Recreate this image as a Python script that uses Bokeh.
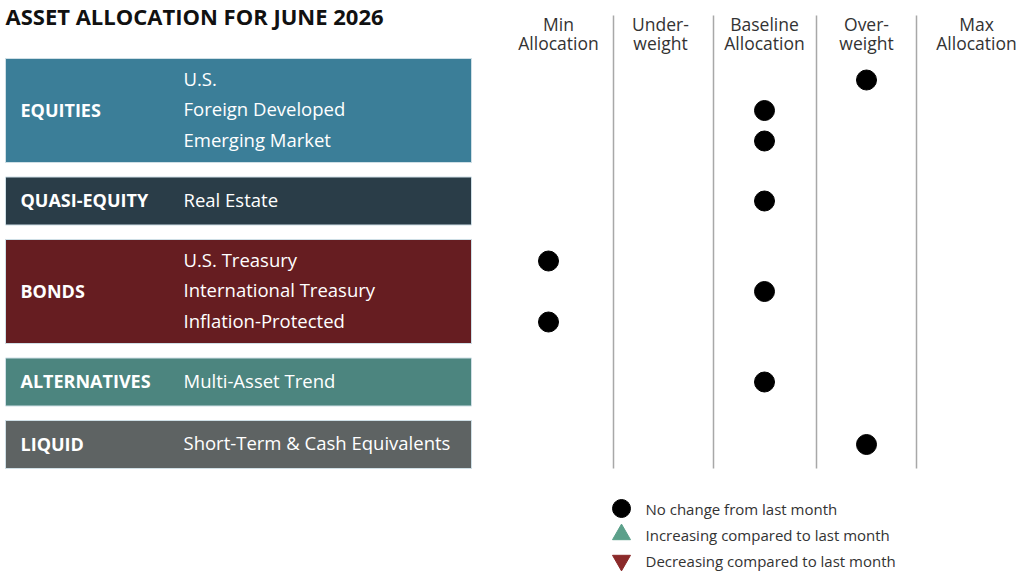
from bokeh.plotting import figure
from bokeh.models import Range1d, ColumnDataSource
from bokeh.core.properties import value
from bokeh.embed import file_html
from bokeh.resources import INLINE

# ---------------- data ----------------
title = "ASSET ALLOCATION FOR JUNE 2026"
levels = ["Min\nAllocation", "Under-\nweight", "Baseline\nAllocation", "Over-\nweight", "Max\nAllocation"]
groups = ["EQUITIES", "QUASI-EQUITY", "BONDS", "ALTERNATIVES", "LIQUID"]
group_colors = ["#3B7E98", "#2A3D48", "#661D21", "#4C857F", "#5E6363"]
group_assets = [
    ["U.S.", "Foreign Developed", "Emerging Market"],
    ["Real Estate"],
    ["U.S. Treasury", "International Treasury", "Inflation-Protected"],
    ["Multi-Asset Trend"],
    ["Short-Term & Cash Equivalents"],
]
# allocation level index per asset (0=Min ... 4=Max)
group_levels = [
    [3, 2, 2],
    [2],
    [0, 2, 0],
    [2],
    [3],
]
# change vs last month per asset
group_changes = [
    ["none", "none", "none"],
    ["none"],
    ["none", "none", "none"],
    ["none"],
    ["none"],
]
legend_labels = ["No change from last month", "Increasing compared to last month", "Decreasing compared to last month"]
legend_keys = ["none", "up", "down"]

# ---------------- style / layout ----------------
FONT = "Open Sans"
W, H = 1024, 575
change_marker = {"none": "circle", "up": "triangle", "down": "inverted_triangle"}
change_color = {"none": "#000000", "up": "#5BA08A", "down": "#8B2A2A"}
header_x = [558, 660, 764, 866, 976]
dot_x = [548, 663, 764, 866, 970]
divider_x = [613, 713, 816, 916]
box_left, box_right = 5, 471
row_pitch = 30.5

p = figure(width=W, height=H, x_range=Range1d(0, W), y_range=Range1d(H, 0),
           output_backend="svg", toolbar_location=None, min_border=0)
p.axis.visible = False
p.grid.visible = False
p.outline_line_color = None
p.background_fill_color = "white"

# title
p.text(x=[5], y=[15], text=[title], text_font=value(FONT), text_font_style="bold",
       text_font_size="22px", text_color="#111111", text_baseline="middle", text_align="left")

# headers
for hx, lab in zip(header_x, levels):
    l1, l2 = lab.split("\n")
    p.text(x=[hx, hx], y=[23, 42], text=[l1, l2], text_font=value(FONT), text_font_size="17.5px",
           text_color="#333333", text_baseline="middle", text_align="center")

# dividers
p.segment(x0=divider_x, y0=[15] * 4, x1=divider_x, y1=[468] * 4, line_color="#a8a8a8", line_width=1.5)

# boxes and rows
top = 58.0
bx, by, bw, bh, bc = [], [], [], [], []
gl_x, gl_y, gl_t = [], [], []
al_x, al_y, al_t = [], [], []
dx, dy, dm, dc = [], [], [], []
for g, col, assets, lv, ch in zip(groups, group_colors, group_assets, group_levels, group_changes):
    n = len(assets)
    h = 48 + (n - 1) * 28
    cy = top + h / 2
    bx.append((box_left + box_right) / 2); by.append(cy); bw.append(box_right - box_left); bh.append(h); bc.append(col)
    gl_x.append(20); gl_y.append(cy - 1); gl_t.append(g)
    for i, (a, l, c) in enumerate(zip(assets, lv, ch)):
        ry = cy + (i - (n - 1) / 2) * row_pitch
        al_x.append(183); al_y.append(ry - 2); al_t.append(a)
        dx.append(dot_x[l]); dy.append(ry); dm.append(change_marker[c]); dc.append(change_color[c])
    top += h + 14.5

p.rect(x=bx, y=by, width=bw, height=bh, fill_color=bc, line_color="#cfdfe6", line_width=1)
p.text(x=gl_x, y=gl_y, text=gl_t, text_font=value(FONT), text_font_style="bold", text_font_size="18px",
       text_color="white", text_baseline="middle", text_align="left")
p.text(x=al_x, y=al_y, text=al_t, text_font=value(FONT), text_font_size="18.5px",
       text_color="white", text_baseline="middle", text_align="left")
p.scatter(x="x", y="y", marker="m", color="c", size=20,
          source=ColumnDataSource(dict(x=dx, y=dy, m=dm, c=dc)))

# legend
ly = [508, 534, 560]
p.scatter(x=[621] * 3, y=ly, marker=[change_marker[k] for k in legend_keys],
          color=[change_color[k] for k in legend_keys], size=18)
p.text(x=[645] * 3, y=ly, text=legend_labels, text_font=value(FONT), text_font_size="15px",
       text_color="#333333", text_baseline="middle", text_align="left")

open("out.html", "w").write(file_html(p, INLINE))
